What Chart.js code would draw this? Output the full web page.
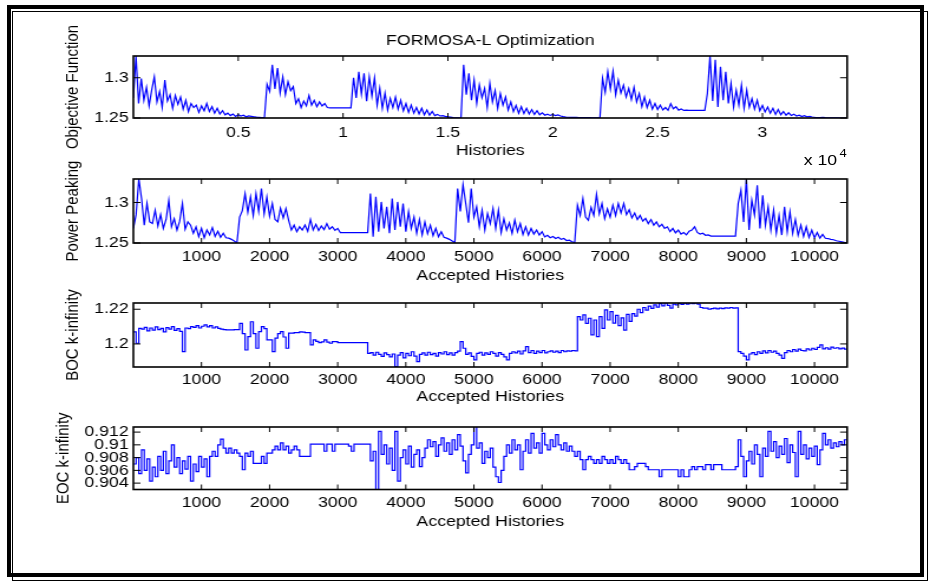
<!DOCTYPE html>
<html>
<head>
<meta charset="utf-8">
<title>FORMOSA-L Optimization</title>
<script src="https://cdn.jsdelivr.net/npm/chart.js@4.4.0/dist/chart.umd.min.js"></script>
<style>
  html, body { margin: 0; padding: 0; background: #fff; }
  #page { position: relative; width: 930px; height: 582px; overflow: hidden; background: #fff; }
  .frame { position: absolute; box-sizing: border-box; border-style: solid; border-color: #000; }
  #frameOuter { left: 7px; top: 5px; width: 917px; height: 572px; border-width: 4px; }
  #frameInner { left: 12px; top: 11px; width: 916px; height: 570px; border-width: 1.5px; }
  /* panels are laid out in a narrower box and widened to the page width */
  #stage { position: absolute; left: 0; top: 0; width: 788px; height: 582px;
           transform: scaleX(1.1802); transform-origin: 0 0; }
  .cw { position: absolute; left: 0; top: 0; width: 788px; height: 582px; pointer-events: none; }
  #xexp { position: absolute; left: 681px; top: 151px; font: 15px/18px "Liberation Sans", Arial, Helvetica, sans-serif;
          color: #000; white-space: nowrap; }
  #xexp span { font-size: 11px; position: relative; top: -8px; margin-left: 2px; }
</style>
</head>
<body>
<div id="page">
  <div class="frame" id="frameOuter"></div>
  <div class="frame" id="frameInner"></div>
  <div id="stage">
    <div class="cw"><canvas id="cObj"></canvas></div>
    <div class="cw"><canvas id="cPP"></canvas></div>
    <div class="cw"><canvas id="cBOC"></canvas></div>
    <div class="cw"><canvas id="cEOC"></canvas></div>
    <div id="xexp">x 10<span>4</span></div>
  </div>
</div>
<script>
// ---- data -------------------------------------------------------------
// Objective function, sampled every 125 histories (x axis in units of 10^4 histories)
const OBJ_STEP = 0.0125;
const objY = [
  1.275, 1.327, 1.268, 1.299, 1.272, 1.288, 1.265, 1.285, 1.301, 1.270,
  1.283, 1.263, 1.297, 1.271, 1.279, 1.262, 1.278, 1.267, 1.276, 1.261,
  1.272, 1.258, 1.268, 1.263, 1.266, 1.257, 1.265, 1.259, 1.268, 1.258,
  1.264, 1.256, 1.262, 1.255, 1.259, 1.254, 1.256, 1.253, 1.255, 1.252,
  1.254, 1.2525, 1.2535, 1.2515, 1.2525, 1.252, 1.2515, 1.251, 1.2508, 1.2505,
  1.2505, 1.292, 1.283, 1.316, 1.286, 1.312, 1.281, 1.301, 1.279, 1.295,
  1.284, 1.289, 1.268, 1.274, 1.263, 1.271, 1.265, 1.278, 1.266, 1.272,
  1.264, 1.270, 1.265, 1.268, 1.263, 1.2625, 1.2625, 1.2625, 1.2625, 1.2625,
  1.2625, 1.2625, 1.2625, 1.2625, 1.300, 1.275, 1.3075, 1.280, 1.3055, 1.271,
  1.301, 1.277, 1.2997, 1.266, 1.287, 1.262, 1.281, 1.260, 1.2745, 1.263,
  1.276, 1.261, 1.272, 1.259, 1.268, 1.257, 1.266, 1.256, 1.263, 1.255,
  1.262, 1.254, 1.260, 1.2535, 1.258, 1.253, 1.2545, 1.2525, 1.253, 1.252,
  1.2515, 1.251, 1.2505, 1.2502, 1.2501, 1.2500, 1.316, 1.279, 1.3055, 1.272,
  1.297, 1.268, 1.291, 1.275, 1.2867, 1.263, 1.293, 1.270, 1.284, 1.262,
  1.2804, 1.266, 1.276, 1.260, 1.270, 1.258, 1.2657, 1.256, 1.264, 1.2555,
  1.262, 1.255, 1.2605, 1.2545, 1.259, 1.254, 1.2565, 1.2535, 1.2548, 1.2532,
  1.2545, 1.2531, 1.2538, 1.2525, 1.2518, 1.2512, 1.2509, 1.2508, 1.2507, 1.2507,
  1.2506, 1.2505, 1.2505, 1.2504, 1.2504, 1.2503, 1.2503, 1.2502, 1.2502, 1.2993,
  1.282, 1.3075, 1.286, 1.308, 1.279, 1.297, 1.281, 1.2908, 1.276, 1.2867,
  1.273, 1.288, 1.270, 1.2804, 1.264, 1.276, 1.263, 1.272, 1.261, 1.268,
  1.2605, 1.266, 1.260, 1.263, 1.2595, 1.2678, 1.2615, 1.264, 1.2598, 1.2612,
  1.2594, 1.2597, 1.2594, 1.2594, 1.2594, 1.2594, 1.2594, 1.2594, 1.2594, 1.2804,
  1.327, 1.271, 1.3222, 1.2636, 1.3137, 1.272, 1.3075, 1.268, 1.293, 1.2636,
  1.2845, 1.266, 1.2908, 1.262, 1.2845, 1.2636, 1.274, 1.261, 1.272, 1.259,
  1.2655, 1.2575, 1.2636, 1.256, 1.262, 1.2545, 1.2605, 1.2541, 1.258, 1.2535,
  1.2565, 1.2531, 1.2548, 1.2525, 1.2535, 1.2518, 1.2528, 1.2515, 1.252, 1.2512,
  1.2508, 1.2506, 1.2505, 1.2508, 1.2504, 1.2503, 1.2502, 1.2502, 1.2501, 1.2501,
  1.25, 1.25, 1.25
];

// Accepted-history traces, sampled every 40 accepted histories
const ACC_STEP = 40;
const powerPeakY = [
  1.268, 1.285, 1.329, 1.305, 1.272, 1.2988, 1.276, 1.274, 1.2905, 1.271,
  1.285, 1.268, 1.279, 1.3028, 1.270, 1.280, 1.266, 1.277, 1.2988, 1.267,
  1.276, 1.272, 1.262, 1.270, 1.258, 1.268, 1.2565, 1.266, 1.260, 1.269,
  1.258, 1.2645, 1.257, 1.262, 1.2565, 1.256, 1.2545, 1.2525, 1.2500, 1.282,
  1.290, 1.311, 1.288, 1.3069, 1.284, 1.311, 1.289, 1.3172, 1.286, 1.3069,
  1.283, 1.2988, 1.279, 1.2762, 1.293, 1.281, 1.2926, 1.278, 1.266, 1.272,
  1.264, 1.270, 1.266, 1.2721, 1.2645, 1.2791, 1.266, 1.273, 1.2655, 1.271,
  1.2665, 1.274, 1.267, 1.270, 1.2655, 1.268, 1.2627, 1.2627, 1.2627, 1.2627,
  1.2627, 1.2627, 1.2627, 1.2627, 1.2627, 1.2627, 1.2627, 1.311, 1.2577, 1.307,
  1.264, 1.3007, 1.268, 1.2946, 1.262, 1.3049, 1.266, 1.3007, 1.270, 1.2988,
  1.264, 1.2885, 1.268, 1.282, 1.262, 1.279, 1.260, 1.276, 1.2615, 1.272,
  1.259, 1.268, 1.2577, 1.264, 1.257, 1.256, 1.2545, 1.2525, 1.2505, 1.3172,
  1.289, 1.322, 1.2988, 1.275, 1.3172, 1.282, 1.2946, 1.270, 1.2905, 1.266,
  1.2864, 1.274, 1.2926, 1.268, 1.2905, 1.263, 1.280, 1.266, 1.275, 1.262,
  1.2783, 1.264, 1.274, 1.2605, 1.270, 1.2598, 1.268, 1.261, 1.266, 1.2598,
  1.264, 1.2575, 1.2595, 1.2565, 1.258, 1.2555, 1.257, 1.2545, 1.2555, 1.253,
  1.2535, 1.2516, 1.2505, 1.2967, 1.284, 1.3049, 1.282, 1.278, 1.294, 1.284,
  1.3102, 1.286, 1.2988, 1.280, 1.292, 1.282, 1.2967, 1.284, 1.2988, 1.287,
  1.2988, 1.285, 1.291, 1.281, 1.2869, 1.279, 1.284, 1.277, 1.2803, 1.274,
  1.279, 1.272, 1.276, 1.270, 1.273, 1.268, 1.270, 1.264, 1.268, 1.2625,
  1.266, 1.261, 1.263, 1.260, 1.2645, 1.266, 1.270, 1.263, 1.261, 1.262,
  1.2595, 1.260, 1.2586, 1.2586, 1.2586, 1.2586, 1.2586, 1.2586, 1.2586, 1.2586,
  1.2586, 1.2586, 1.2988, 1.3151, 1.276, 1.329, 1.266, 1.3028, 1.2844, 1.3213,
  1.268, 1.309, 1.272, 1.2946, 1.266, 1.2905, 1.262, 1.284, 1.2598, 1.2946,
  1.264, 1.2885, 1.262, 1.279, 1.2595, 1.272, 1.258, 1.270, 1.257, 1.266,
  1.2565, 1.263, 1.256, 1.2605, 1.2558, 1.2555, 1.2545, 1.254, 1.2528, 1.2522,
  1.2515, 1.2508, 1.2504
];

const bocKinfY = [
  1.2070, 1.2004, 1.2090, 1.2085, 1.2095, 1.2075, 1.2092, 1.2080, 1.2098, 1.2082,
  1.2090, 1.2070, 1.2094, 1.2085, 1.2100, 1.2078, 1.2088, 1.2072, 1.1956, 1.2092,
  1.2088, 1.2100, 1.2095, 1.2105, 1.2092, 1.2102, 1.2110, 1.2098, 1.2105, 1.2092,
  1.2098, 1.2090, 1.2085, 1.2082, 1.2081, 1.2081, 1.2081, 1.2083, 1.2083, 1.2119,
  1.2060, 1.1965, 1.2042, 1.2128, 1.2060, 1.1975, 1.2071, 1.2100, 1.2088, 1.2023,
  1.2023, 1.1956, 1.2033, 1.2060, 1.2071, 1.2040, 1.1975, 1.2062, 1.2062, 1.2065,
  1.2065, 1.2070, 1.2068, 1.2065, 1.2065, 1.1994, 1.2023, 1.2015, 1.2008, 1.2012,
  1.2023, 1.2010, 1.2004, 1.2013, 1.2013, 1.2008, 1.2008, 1.2008, 1.2008, 1.2008,
  1.2008, 1.2008, 1.2008, 1.2008, 1.2008, 1.2008, 1.1946, 1.1950, 1.1935, 1.1952,
  1.1940, 1.1928, 1.1948, 1.1938, 1.1925, 1.1942, 1.1869, 1.1935, 1.1950, 1.1920,
  1.1945, 1.1932, 1.1955, 1.1930, 1.1898, 1.1940, 1.1948, 1.1935, 1.1952, 1.1938,
  1.1945, 1.1930, 1.1950, 1.1942, 1.1955, 1.1938, 1.1948, 1.1935, 1.1950, 1.1958,
  1.2013, 1.1975, 1.1940, 1.1948, 1.1928, 1.1908, 1.1945, 1.1952, 1.1935, 1.1948,
  1.1940, 1.1955, 1.1945, 1.1930, 1.1950, 1.1940, 1.1925, 1.1908, 1.1945, 1.1955,
  1.1948, 1.1958, 1.1942, 1.1960, 1.1984, 1.1950, 1.1962, 1.1945, 1.1958, 1.1950,
  1.1962, 1.1948, 1.1955, 1.1960, 1.1952, 1.1958, 1.1950, 1.1962, 1.1955, 1.1960,
  1.1958, 1.1962, 1.1960, 1.2157, 1.2138, 1.2167, 1.2119, 1.2148, 1.2052, 1.2138,
  1.2042, 1.2157, 1.2090, 1.2196, 1.2138, 1.2186, 1.2120, 1.2165, 1.2105, 1.2150,
  1.2080, 1.2170, 1.2130, 1.2175, 1.2160, 1.2200, 1.2180, 1.2210, 1.2195, 1.2218,
  1.2205, 1.2225, 1.2212, 1.2232, 1.2220, 1.2236, 1.2222, 1.2206, 1.2230, 1.2225,
  1.2235, 1.2228, 1.2236, 1.2230, 1.2236, 1.2232, 1.2236, 1.2230, 1.2210, 1.2206,
  1.2206, 1.2200, 1.2203, 1.2206, 1.2202, 1.2206, 1.2204, 1.2208, 1.2206, 1.2210,
  1.2206, 1.2208, 1.1956, 1.1945, 1.1930, 1.1908, 1.1942, 1.1950, 1.1938, 1.1955,
  1.1945, 1.1960, 1.1948, 1.1962, 1.1952, 1.1958, 1.1945, 1.1935, 1.1917, 1.1950,
  1.1962, 1.1955, 1.1968, 1.1958, 1.1970, 1.1962, 1.1960, 1.1972, 1.1965, 1.1975,
  1.1968, 1.1980, 1.1994, 1.1972, 1.1978, 1.1970, 1.1982, 1.1975, 1.1978, 1.1972,
  1.1976, 1.1970, 1.1972
];

const eocKinfY = [
  0.9070, 0.9080, 0.9055, 0.9092, 0.9060, 0.9078, 0.9043, 0.9065, 0.9050, 0.9082,
  0.9060, 0.9090, 0.9055, 0.9075, 0.9100, 0.9065, 0.9080, 0.9055, 0.9075, 0.9062,
  0.9082, 0.9043, 0.9070, 0.9058, 0.9082, 0.9065, 0.9078, 0.9050, 0.9082, 0.9090,
  0.9082, 0.9100, 0.9109, 0.9095, 0.9087, 0.9095, 0.9087, 0.9092, 0.9087, 0.9082,
  0.9061, 0.9087, 0.9082, 0.9090, 0.9071, 0.9071, 0.9071, 0.9082, 0.9071, 0.9087,
  0.9087, 0.9092, 0.9098, 0.9092, 0.9103, 0.9092, 0.9098, 0.9087, 0.9092, 0.9098,
  0.9092, 0.9082, 0.9082, 0.9082, 0.9082, 0.9101, 0.9101, 0.9101, 0.9101, 0.9101,
  0.9090, 0.9101, 0.9101, 0.9090, 0.9101, 0.9101, 0.9101, 0.9101, 0.9101, 0.9098,
  0.9090, 0.9101, 0.9101, 0.9101, 0.9101, 0.9101, 0.9101, 0.9075, 0.9090, 0.9030,
  0.9121, 0.9085, 0.9100, 0.9070, 0.9095, 0.9060, 0.9121, 0.9043, 0.9080, 0.9092,
  0.9070, 0.9098, 0.9065, 0.9085, 0.9092, 0.9066, 0.9080, 0.9095, 0.9108, 0.9097,
  0.9105, 0.9082, 0.9100, 0.9111, 0.9090, 0.9103, 0.9085, 0.9108, 0.9092, 0.9116,
  0.9098, 0.9075, 0.9056, 0.9085, 0.9100, 0.9129, 0.9095, 0.9103, 0.9071, 0.9090,
  0.9080, 0.9095, 0.9065, 0.9050, 0.9041, 0.9060, 0.9082, 0.9100, 0.9087, 0.9108,
  0.9092, 0.9100, 0.9061, 0.9090, 0.9108, 0.9087, 0.9118, 0.9095, 0.9103, 0.9087,
  0.9118, 0.9100, 0.9092, 0.9108, 0.9097, 0.9116, 0.9100, 0.9092, 0.9103, 0.9090,
  0.9098, 0.9090, 0.9082, 0.9090, 0.9077, 0.9061, 0.9077, 0.9082, 0.9077, 0.9071,
  0.9077, 0.9071, 0.9082, 0.9077, 0.9071, 0.9077, 0.9071, 0.9082, 0.9077, 0.9071,
  0.9077, 0.9071, 0.9061, 0.9061, 0.9066, 0.9071, 0.9071, 0.9071, 0.9066, 0.9061,
  0.9061, 0.9061, 0.9061, 0.9050, 0.9061, 0.9061, 0.9061, 0.9061, 0.9061, 0.9061,
  0.9050, 0.9061, 0.9050, 0.9050, 0.9061, 0.9066, 0.9061, 0.9066, 0.9066, 0.9061,
  0.9069, 0.9069, 0.9061, 0.9069, 0.9069, 0.9069, 0.9061, 0.9061, 0.9061, 0.9061,
  0.9061, 0.9066, 0.9108, 0.9082, 0.9050, 0.9075, 0.9090, 0.9070, 0.9100, 0.9085,
  0.9050, 0.9095, 0.9082, 0.9121, 0.9090, 0.9105, 0.9080, 0.9098, 0.9085, 0.9110,
  0.9072, 0.9100, 0.9088, 0.9050, 0.9121, 0.9085, 0.9100, 0.9078, 0.9095, 0.9082,
  0.9098, 0.9069, 0.9092, 0.9118, 0.9100, 0.9108, 0.9095, 0.9103, 0.9097, 0.9105,
  0.9100, 0.9108, 0.9103
];

// tick positions
const histTicks = [0.5, 1, 1.5, 2, 2.5, 3];
const accTicks = [1000, 2000, 3000, 4000, 5000, 6000, 7000, 8000, 9000, 10000];
const objTicks = [1.25, 1.3];
const ppTicks = [1.25, 1.3];
const bocTicks = [1.2, 1.22];
const eocTicks = [0.904, 0.906, 0.908, 0.91, 0.912];

// ---- drawing -----------------------------------------------------------
const FONT = { family: '"Liberation Sans", Arial, Helvetica, sans-serif', size: 15, weight: 'normal' };
const STAGE_W = 788, STAGE_H = 582;
const AXIS_LEFT_W = 113;       // width reserved for y tick labels and title
const PLOT_RIGHT = 717.8;
const XAXIS_H = 46;

const objX = objY.map((_, i) => i * OBJ_STEP);
const accX = powerPeakY.map((_, i) => i * ACC_STEP);

// MATLAB-style box with inward tick marks on all four sides
const boxTicks = {
  id: 'boxTicks',
  afterDatasetsDraw(chart) {
    const { ctx, chartArea: a } = chart;
    const xs = chart.scales.x, ys = chart.scales.y;
    ctx.save();
    ctx.strokeStyle = '#000';
    ctx.lineWidth = 1;
    ctx.beginPath();
    for (const t of xs.ticks) {
      const px = xs.getPixelForValue(t.value);
      ctx.moveTo(px, a.bottom); ctx.lineTo(px, a.bottom - 5);
      ctx.moveTo(px, a.top); ctx.lineTo(px, a.top + 5);
    }
    for (const t of ys.ticks) {
      const py = ys.getPixelForValue(t.value);
      ctx.moveTo(a.left, py); ctx.lineTo(a.left + 6, py);
      ctx.moveTo(a.right, py); ctx.lineTo(a.right - 6, py);
    }
    ctx.stroke();
    ctx.lineWidth = 1.6;
    ctx.strokeRect(a.left, a.top, a.right - a.left, a.bottom - a.top);
    ctx.restore();
  }
};

function panel(id, p) {
  const pts = p.ys.map((v, i) => ({ x: p.xs[i], y: v }));
  return new Chart(document.getElementById(id), {
    type: 'line',
    data: {
      datasets: [{
        data: pts,
        borderColor: '#0000ff',
        borderWidth: 1.2,
        pointRadius: 0,
        fill: false,
        tension: 0,
        stepped: p.stepped || false
      }]
    },
    options: {
      responsive: true,
      maintainAspectRatio: false,
      animation: false,
      devicePixelRatio: 1,
      events: [],
      layout: {
        padding: {
          left: 0,
          right: STAGE_W - PLOT_RIGHT,
          top: p.padTop,
          bottom: STAGE_H - p.plotBottom - XAXIS_H
        }
      },
      plugins: {
        legend: { display: false },
        tooltip: { enabled: false },
        title: p.title ? {
          display: true, text: p.title, color: '#000', font: FONT,
          fullSize: false, padding: { top: 0, bottom: 6 }
        } : { display: false }
      },
      scales: {
        x: {
          type: 'linear',
          min: p.xMin, max: p.xMax,
          afterBuildTicks: s => { s.ticks = p.xTicks.map(v => ({ value: v })); },
          afterFit: s => { s.height = XAXIS_H; },
          grid: { display: false, drawTicks: false },
          border: { display: false },
          ticks: {
            color: '#000', font: FONT, padding: p.tickPad, autoSkip: false,
            maxRotation: 0, minRotation: 0, callback: v => String(v)
          },
          title: {
            display: true, text: p.xTitle, color: '#000', font: FONT,
            padding: { top: 0, bottom: p.xTitlePad }
          }
        },
        y: {
          type: 'linear',
          min: p.yMin, max: p.yMax,
          afterBuildTicks: s => { s.ticks = p.yTicks.map(v => ({ value: v })); },
          afterFit: s => { s.width = AXIS_LEFT_W; },
          grid: { display: false, drawTicks: false },
          border: { display: false },
          ticks: { color: '#000', font: FONT, padding: 4, autoSkip: false, callback: v => String(v) },
          title: {
            display: true, text: p.yTitle, color: '#000', font: FONT,
            padding: { top: p.yTitlePad, bottom: 0 }
          }
        }
      }
    },
    plugins: [boxTicks]
  });
}

panel('cObj', {
  xs: objX, ys: objY, xMin: 0, xMax: 3.404, xTicks: histTicks,
  yMin: 1.25, yMax: 1.327, yTicks: objTicks,
  xTitle: 'Histories', yTitle: 'Objective Function', title: 'FORMOSA-L Optimization',
  padTop: 32, plotBottom: 118, tickPad: 6, xTitlePad: 3.7, yTitlePad: 52.4
});
panel('cPP', {
  xs: accX, ys: powerPeakY, xMin: 0, xMax: 10480, xTicks: accTicks,
  yMin: 1.25, yMax: 1.329, yTicks: ppTicks,
  xTitle: 'Accepted Histories', yTitle: 'Power Peaking',
  padTop: 179, plotBottom: 243, tickPad: 5, xTitlePad: 3.9, yTitlePad: 52.4
});
panel('cBOC', {
  xs: accX, ys: bocKinfY, xMin: 0, xMax: 10480, xTicks: accTicks,
  yMin: 1.1867, yMax: 1.2236, yTicks: bocTicks, stepped: true,
  xTitle: 'Accepted Histories', yTitle: 'BOC k-infinity',
  padTop: 303, plotBottom: 367, tickPad: 4, xTitlePad: 7, yTitlePad: 52.4
});
panel('cEOC', {
  xs: accX, ys: eocKinfY, xMin: 0, xMax: 10480, xTicks: accTicks,
  yMin: 0.9030, yMax: 0.9128, yTicks: eocTicks, stepped: true,
  xTitle: 'Accepted Histories', yTitle: 'EOC k-infinity',
  padTop: 427, plotBottom: 489.5, tickPad: 4.5, xTitlePad: 4.6, yTitlePad: 44.6
});
</script>
</body>
</html>
